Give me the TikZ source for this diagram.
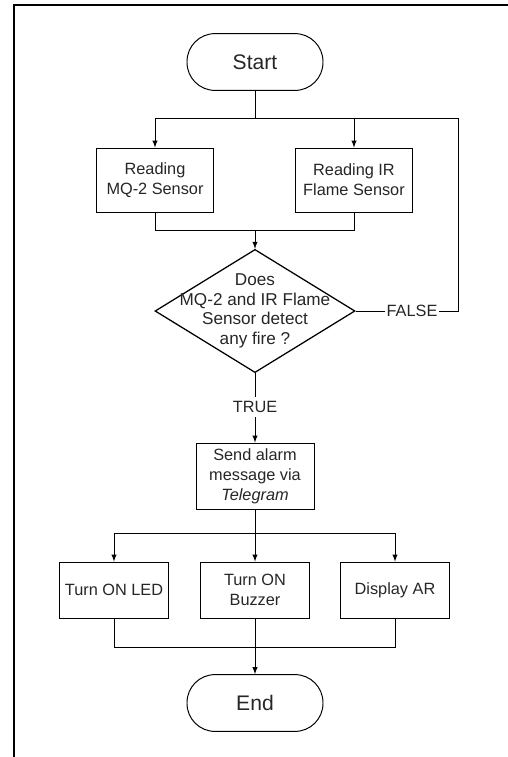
\documentclass[tikz,border=0pt]{standalone}
\usepackage{fontspec}
\setmainfont{Liberation Sans}
\usetikzlibrary{shapes.geometric, arrows}

\begin{document}
\begin{tikzpicture}
    [
        terminal/.style = {draw, shape=rectangle, rounded corners=0.7cm, minimum height=1.42cm, minimum width=3.4cm, line width=0.7pt, font=\fontsize{15}{17}\selectfont},
        process/.style = {draw, shape=rectangle, align=center, minimum height=1.6cm, minimum width=2.93cm, line width=0.7pt, font=\fontsize{11.6}{14.2}\selectfont},
        action/.style = {draw, shape=rectangle, align=center, minimum height=1.4cm, minimum width=2.73cm, line width=0.7pt, font=\fontsize{11.6}{14.2}\selectfont},
        decision/.style = {draw, shape=diamond, minimum height=3.08cm, minimum width=5cm, inner sep=0pt, line width=0.9pt},
        tag/.style = {fill=white, inner sep=1.5pt, font=\fontsize{11.6}{14}\selectfont},
        line/.style = {line width=0.7pt},
        arrow/.style = {line width=0.7pt, -latex},
        text=black!85,
    ]

    \useasboundingbox (0,0) rectangle (12.7cm,-18.925cm);
    % page border
    \draw[line width=0.8pt] (12.7cm,-0.125cm) -- (0.35cm,-0.125cm) -- (0.35cm,-18.925cm);

    \node[terminal] (start) at (6.375cm,-1.55cm)   {Start};
    \node[process] (mq2) at (3.875cm,-4.5cm)       {Reading\\MQ-2 Sensor};
    \node[process] (flame) at (8.85cm,-4.5cm)      {Reading IR\\Flame Sensor};
    \node[decision] (ask) at (6.375cm,-7.775cm)    {};
    \node[align=center, font=\fontsize{12.2}{14}\selectfont] (asktext) at (ask.center) {Does\\MQ-2 and IR Flame\\Sensor detect\\any fire ?};
    \node[process, minimum height=1.65cm, minimum width=2.95cm] (telegram) at (6.375cm,-11.9cm) {Send alarm\\message via\\\textit{Telegram}};
    \node[action] (led) at (2.85cm,-14.75cm)       {Turn ON LED};
    \node[action] (buzzer) at (6.375cm,-14.75cm)   {Turn ON\\Buzzer};
    \node[action] (display) at (9.875cm,-14.75cm)  {Display AR};
    \node[terminal] (end) at (6.375cm,-17.575cm)   {End};

    \coordinate (split) at (6.375cm,-2.95cm);
    \coordinate (merge) at (6.375cm,-5.75cm);
    \coordinate (loop) at (11.45cm,-7.775cm);
    \coordinate (fork) at (6.375cm,-13.325cm);
    \coordinate (join) at (6.375cm,-16.175cm);

    % reading the sensors
    \draw[line] (start) -- (split);
    \draw[arrow] (split) -| (mq2);
    \draw[arrow] (split) -| (flame);
    \draw[line] (mq2) |- (merge);
    \draw[line] (flame) |- (merge);
    \draw[arrow] (merge) -- (ask);

    % no fire: read again
    \draw[line] (ask.east) -- (loop) |- (flame |- split);
    \node[tag] (false) at (10.3cm,-7.775cm) {FALSE};

    % fire found
    \draw[arrow] (ask.south) -- (telegram);
    \node[tag, inner sep=3pt] (true) at (6.375cm,-10.175cm) {TRUE};

    \draw[line] (telegram) -- (fork);
    \draw[arrow] (fork) -| (led);
    \draw[arrow] (fork) -- (buzzer);
    \draw[arrow] (fork) -| (display);
    \draw[line] (led) |- (join);
    \draw[line] (display) |- (join);
    \draw[line] (buzzer) -- (join);
    \draw[arrow] (join) -- (end);
\end{tikzpicture}
\end{document}
